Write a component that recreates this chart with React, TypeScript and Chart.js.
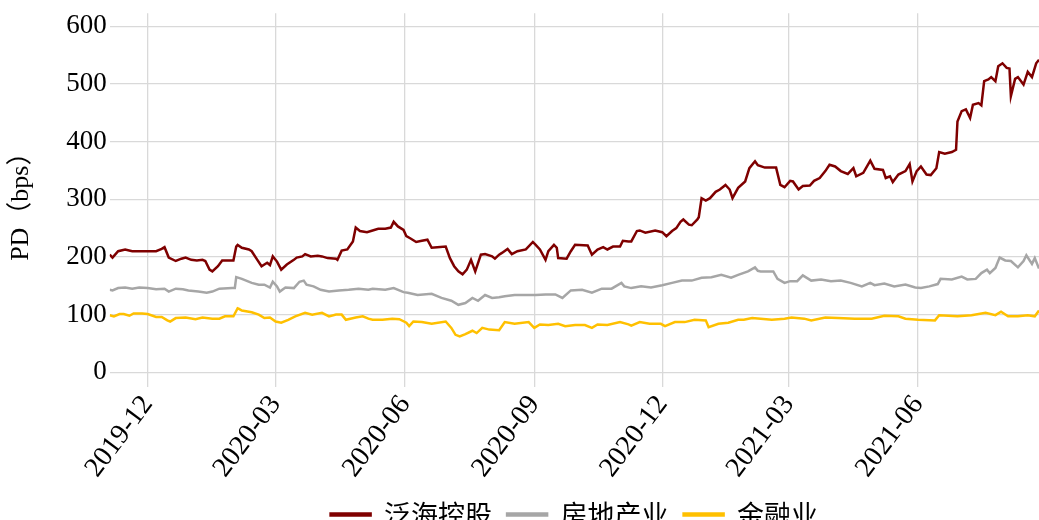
import React, { useEffect, useRef } from 'react';
import { Chart, registerables } from 'chart.js';

Chart.register(...registerables);

const seriesNames = ['泛海控股', '房地产业', '金融业'];
const seriesColors = ['#7f0000', '#a6a6a6', '#ffc000'];

const redDates = [
  '2019-11-04','2019-11-06','2019-11-10','2019-11-15','2019-11-20','2019-11-25','2019-11-30','2019-12-07','2019-12-11','2019-12-13',
  '2019-12-16','2019-12-21','2019-12-25','2019-12-28','2020-01-01','2020-01-05','2020-01-09','2020-01-11','2020-01-14','2020-01-16',
  '2020-01-20','2020-01-23','2020-01-31','2020-02-02','2020-02-03','2020-02-06','2020-02-11','2020-02-13','2020-02-17','2020-02-20',
  '2020-02-24','2020-02-26','2020-02-28','2020-03-02','2020-03-05','2020-03-09','2020-03-14','2020-03-16','2020-03-20','2020-03-22',
  '2020-03-26','2020-03-31','2020-04-03','2020-04-07','2020-04-13','2020-04-14','2020-04-17','2020-04-21','2020-04-25','2020-04-27',
  '2020-04-30','2020-05-05','2020-05-09','2020-05-13','2020-05-18','2020-05-22','2020-05-24','2020-05-27','2020-05-31','2020-06-02',
  '2020-06-05','2020-06-09','2020-06-13','2020-06-17','2020-06-20','2020-06-24','2020-06-30','2020-07-03','2020-07-06','2020-07-09',
  '2020-07-12','2020-07-15','2020-07-18','2020-07-21','2020-07-25','2020-07-28','2020-08-02','2020-08-04','2020-08-07','2020-08-09',
  '2020-08-13','2020-08-16','2020-08-20','2020-08-26','2020-08-31','2020-09-02','2020-09-05','2020-09-09','2020-09-11','2020-09-15',
  '2020-09-17','2020-09-18','2020-09-24','2020-09-27','2020-09-30','2020-10-09','2020-10-12','2020-10-16','2020-10-20','2020-10-23',
  '2020-10-27','2020-11-01','2020-11-03','2020-11-07','2020-11-09','2020-11-13','2020-11-15','2020-11-19','2020-11-26','2020-12-01',
  '2020-12-04','2020-12-08','2020-12-11','2020-12-14','2020-12-16','2020-12-20','2020-12-22','2020-12-26','2020-12-27','2020-12-29',
  '2021-01-01','2021-01-04','2021-01-08','2021-01-11','2021-01-15','2021-01-18','2021-01-20','2021-01-24','2021-01-29','2021-02-01',
  '2021-02-05','2021-02-07','2021-02-12','2021-02-20','2021-02-23','2021-02-26','2021-03-02','2021-03-04','2021-03-08','2021-03-11',
  '2021-03-16','2021-03-19','2021-03-23','2021-03-27','2021-03-30','2021-04-03','2021-04-07','2021-04-12','2021-04-16','2021-04-18',
  '2021-04-23','2021-04-28','2021-05-01','2021-05-07','2021-05-09','2021-05-12','2021-05-14','2021-05-18','2021-05-23','2021-05-26',
  '2021-05-28','2021-05-31','2021-06-03','2021-06-07','2021-06-10','2021-06-14','2021-06-16','2021-06-20','2021-06-25','2021-06-28',
  '2021-06-29','2021-07-02','2021-07-05','2021-07-08','2021-07-10','2021-07-14','2021-07-16','2021-07-18','2021-07-21','2021-07-23',
  '2021-07-26','2021-07-28','2021-07-31','2021-08-03','2021-08-05','2021-08-06','2021-08-09','2021-08-11','2021-08-15','2021-08-18',
  '2021-08-21','2021-08-24','2021-08-26',
];
const redValues = [
  204,199,210,213,210,210,210,210,214,217,
  199,193,197,199,195,194,195,193,178,175,
  184,194,194,218,221,216,213,210,195,184,
  190,186,201,192,178,187,195,199,201,205,
  201,202,201,198,197,195,211,213,227,251,
  245,243,246,249,249,251,261,253,247,236,
  232,226,228,230,216,217,218,198,184,175,
  170,178,195,175,204,205,201,197,204,207,
  214,205,210,213,226,221,213,195,210,221,
  216,198,197,210,221,220,204,213,217,213,
  218,218,228,227,227,245,246,242,246,243,
  236,245,250,261,265,256,255,265,269,302,
  298,302,313,317,325,317,302,320,331,354,
  366,359,355,355,325,321,332,331,317,323,
  324,332,337,349,360,357,349,344,354,340,
  346,367,353,351,337,340,330,343,349,361,
  331,349,357,343,342,354,382,379,382,386,
  435,453,456,441,464,467,463,505,508,512,
  505,531,536,528,527,479,509,512,499,521,
  512,536,542,
];

const grayDates = [
  '2019-11-04','2019-11-06','2019-11-10','2019-11-15','2019-11-20','2019-11-25','2019-12-01','2019-12-07','2019-12-13','2019-12-16',
  '2019-12-21','2019-12-26','2019-12-30','2020-01-06','2020-01-12','2020-01-16','2020-01-21','2020-01-30','2020-02-01','2020-02-02',
  '2020-02-06','2020-02-13','2020-02-18','2020-02-22','2020-02-26','2020-02-28','2020-03-02','2020-03-04','2020-03-08','2020-03-14',
  '2020-03-18','2020-03-21','2020-03-23','2020-03-28','2020-04-02','2020-04-08','2020-04-15','2020-04-22','2020-04-29','2020-05-06',
  '2020-05-09','2020-05-18','2020-05-24','2020-05-31','2020-06-03','2020-06-10','2020-06-20','2020-06-27','2020-07-04','2020-07-09',
  '2020-07-14','2020-07-19','2020-07-23','2020-07-28','2020-08-02','2020-08-07','2020-08-11','2020-08-18','2020-08-26','2020-09-02',
  '2020-09-09','2020-09-16','2020-09-21','2020-09-27','2020-10-05','2020-10-12','2020-10-19','2020-10-26','2020-11-02','2020-11-04',
  '2020-11-09','2020-11-16','2020-11-23','2020-12-01','2020-12-08','2020-12-15','2020-12-22','2020-12-29','2021-01-05','2021-01-12',
  '2021-01-19','2021-01-24','2021-01-31','2021-02-05','2021-02-07','2021-02-09','2021-02-18','2021-02-21','2021-02-26','2021-03-02',
  '2021-03-07','2021-03-11','2021-03-17','2021-03-24','2021-03-31','2021-04-07','2021-04-14','2021-04-22','2021-04-28','2021-05-01',
  '2021-05-08','2021-05-15','2021-05-23','2021-05-30','2021-06-03','2021-06-09','2021-06-15','2021-06-17','2021-06-25','2021-07-02',
  '2021-07-06','2021-07-12','2021-07-16','2021-07-20','2021-07-22','2021-07-26','2021-07-29','2021-08-02','2021-08-06','2021-08-11',
  '2021-08-15','2021-08-17','2021-08-21','2021-08-23','2021-08-26',
];
const grayValues = [
  143,142,146,147,145,147,146,144,145,140,
  145,144,142,140,138,140,145,146,146,165,
  162,155,152,152,147,157,149,140,147,146,
  157,159,152,149,143,140,142,143,145,143,
  145,143,146,139,138,134,136,129,124,117,
  120,129,124,134,129,130,132,134,134,134,
  135,135,129,142,143,138,145,145,155,149,
  146,149,147,151,155,159,159,164,165,169,
  164,169,175,182,176,175,175,162,155,158,
  158,168,159,161,158,159,155,149,155,151,
  154,149,152,147,146,149,153,162,161,166,
  161,162,172,178,172,181,199,194,193,182,
  193,203,188,198,180,
];

const yellowDates = [
  '2019-11-04','2019-11-07','2019-11-11','2019-11-14','2019-11-18','2019-11-21','2019-11-27','2019-12-01','2019-12-07','2019-12-11',
  '2019-12-15','2019-12-17','2019-12-21','2019-12-28','2020-01-04','2020-01-09','2020-01-16','2020-01-21','2020-01-25','2020-01-31',
  '2020-02-03','2020-02-04','2020-02-06','2020-02-13','2020-02-18','2020-02-22','2020-02-26','2020-03-01','2020-03-05','2020-03-10',
  '2020-03-15','2020-03-22','2020-03-27','2020-04-03','2020-04-08','2020-04-13','2020-04-17','2020-04-20','2020-04-27','2020-05-02',
  '2020-05-06','2020-05-09','2020-05-16','2020-05-23','2020-05-28','2020-06-02','2020-06-04','2020-06-07','2020-06-13','2020-06-20',
  '2020-06-30','2020-07-04','2020-07-07','2020-07-10','2020-07-14','2020-07-19','2020-07-22','2020-07-26','2020-07-31','2020-08-07',
  '2020-08-11','2020-08-18','2020-08-28','2020-09-01','2020-09-05','2020-09-11','2020-09-18','2020-09-23','2020-09-30','2020-10-07',
  '2020-10-12','2020-10-16','2020-10-23','2020-11-01','2020-11-07','2020-11-09','2020-11-15','2020-11-22','2020-11-30','2020-12-03',
  '2020-12-10','2020-12-17','2020-12-24','2021-01-01','2021-01-03','2021-01-10','2021-01-17','2021-01-24','2021-01-28','2021-02-03',
  '2021-02-17','2021-02-26','2021-03-03','2021-03-12','2021-03-17','2021-03-27','2021-04-05','2021-04-17','2021-04-29','2021-05-08',
  '2021-05-18','2021-05-23','2021-06-01','2021-06-13','2021-06-16','2021-06-29','2021-07-09','2021-07-19','2021-07-26','2021-07-30',
  '2021-08-04','2021-08-11','2021-08-18','2021-08-23','2021-08-26',
];
const yellowValues = [
  99,97,101,101,98,102,102,101,96,96,
  90,88,94,95,92,95,93,93,97,97,
  111,110,107,104,100,94,95,88,86,91,
  97,103,100,103,97,100,100,91,95,97,
  93,91,91,93,92,86,80,88,87,84,
  88,77,65,62,66,72,68,77,74,73,
  87,84,87,77,83,82,84,80,82,82,
  77,83,82,87,83,81,87,84,84,80,
  87,87,91,90,78,84,86,91,91,94,
  91,93,95,93,90,95,94,93,93,98,
  97,93,91,90,99,97,99,103,99,105,
  97,97,99,97,107,
];

const xTickDates = ['2019-12-01', '2020-03-01', '2020-06-01', '2020-09-01', '2020-12-01', '2021-03-01', '2021-06-01'];
const yTicks = [0, 100, 200, 300, 400, 500, 600];
const xStart = '2019-11-04';
const xEnd = '2021-08-26';
const yMin = -26;
const yMax = 623;
const yTitle = 'PD（bps）';

const ts = (s: string) => Date.UTC(+s.slice(0, 4), +s.slice(5, 7) - 1, +s.slice(8, 10));
const fmt = (v: number) => {
  const d = new Date(v);
  return `${d.getUTCFullYear()}-${String(d.getUTCMonth() + 1).padStart(2, '0')}`;
};
const toPoints = (dates: string[], values: number[]) => dates.map((d, i) => ({ x: ts(d), y: values[i] }));

const SERIF = "'Liberation Serif', 'Noto Sans CJK SC', serif";

export default function App() {
  const ref = useRef<HTMLCanvasElement | null>(null);

  useEffect(() => {
    document.body.style.margin = '0';
    const canvas = ref.current;
    if (!canvas) return;
    const sets = [
      toPoints(redDates, redValues),
      toPoints(grayDates, grayValues),
      toPoints(yellowDates, yellowValues),
    ];
    const chart = new Chart(canvas, {
      type: 'line',
      data: {
        datasets: sets.map((data, i) => ({
          label: seriesNames[i],
          data,
          borderColor: seriesColors[i],
          backgroundColor: seriesColors[i],
          borderWidth: 2.5,
          pointRadius: 0,
          tension: 0,
        })),
      },
      options: {
        animation: false,
        responsive: false,
        maintainAspectRatio: false,
        layout: { padding: { top: 0, left: 6, right: 0, bottom: 0 } },
        plugins: {
          tooltip: { enabled: false },
          legend: {
            position: 'bottom',
            fullSize: false,
            labels: {
              boxWidth: 40,
              boxHeight: 2,
              padding: 15,
              color: '#000',
              font: { family: "'Noto Sans CJK SC', sans-serif", size: 27 },
            },
          },
        },
        scales: {
          x: {
            type: 'linear',
            min: ts(xStart),
            max: ts(xEnd),
            afterBuildTicks: (axis: any) => {
              axis.ticks = xTickDates.map((d) => ({ value: ts(d) }));
            },
            ticks: {
              autoSkip: false,
              maxRotation: 53,
              minRotation: 53,
              padding: 2,
              color: '#000',
              font: { family: SERIF, size: 28 },
              callback: (v: any) => fmt(Number(v)),
            },
            grid: { color: '#d9d9d9', lineWidth: 1.3, drawTicks: false },
            border: { display: false },
          },
          y: {
            min: yMin,
            max: yMax,
            afterBuildTicks: (axis: any) => {
              axis.ticks = yTicks.map((v) => ({ value: v }));
            },
            ticks: {
              padding: 3,
              color: '#000',
              font: { family: SERIF, size: 27, lineHeight: 0.75 },
            },
            grid: { color: '#d9d9d9', lineWidth: 1.3, drawTicks: false },
            border: { display: false },
            title: {
              display: true,
              text: yTitle,
              color: '#000',
              font: { family: SERIF, size: 26 },
              padding: { top: 0, bottom: 26 },
            },
          },
        },
      },
    });
    return () => chart.destroy();
  }, []);

  return (
    <div style={{ position: 'fixed', left: 0, top: 0, width: 1039, height: 520, overflow: 'hidden', background: '#fff' }}>
      <canvas ref={ref} width={1039} height={538} style={{ display: 'block', width: 1039, height: 538 }} />
    </div>
  );
}
